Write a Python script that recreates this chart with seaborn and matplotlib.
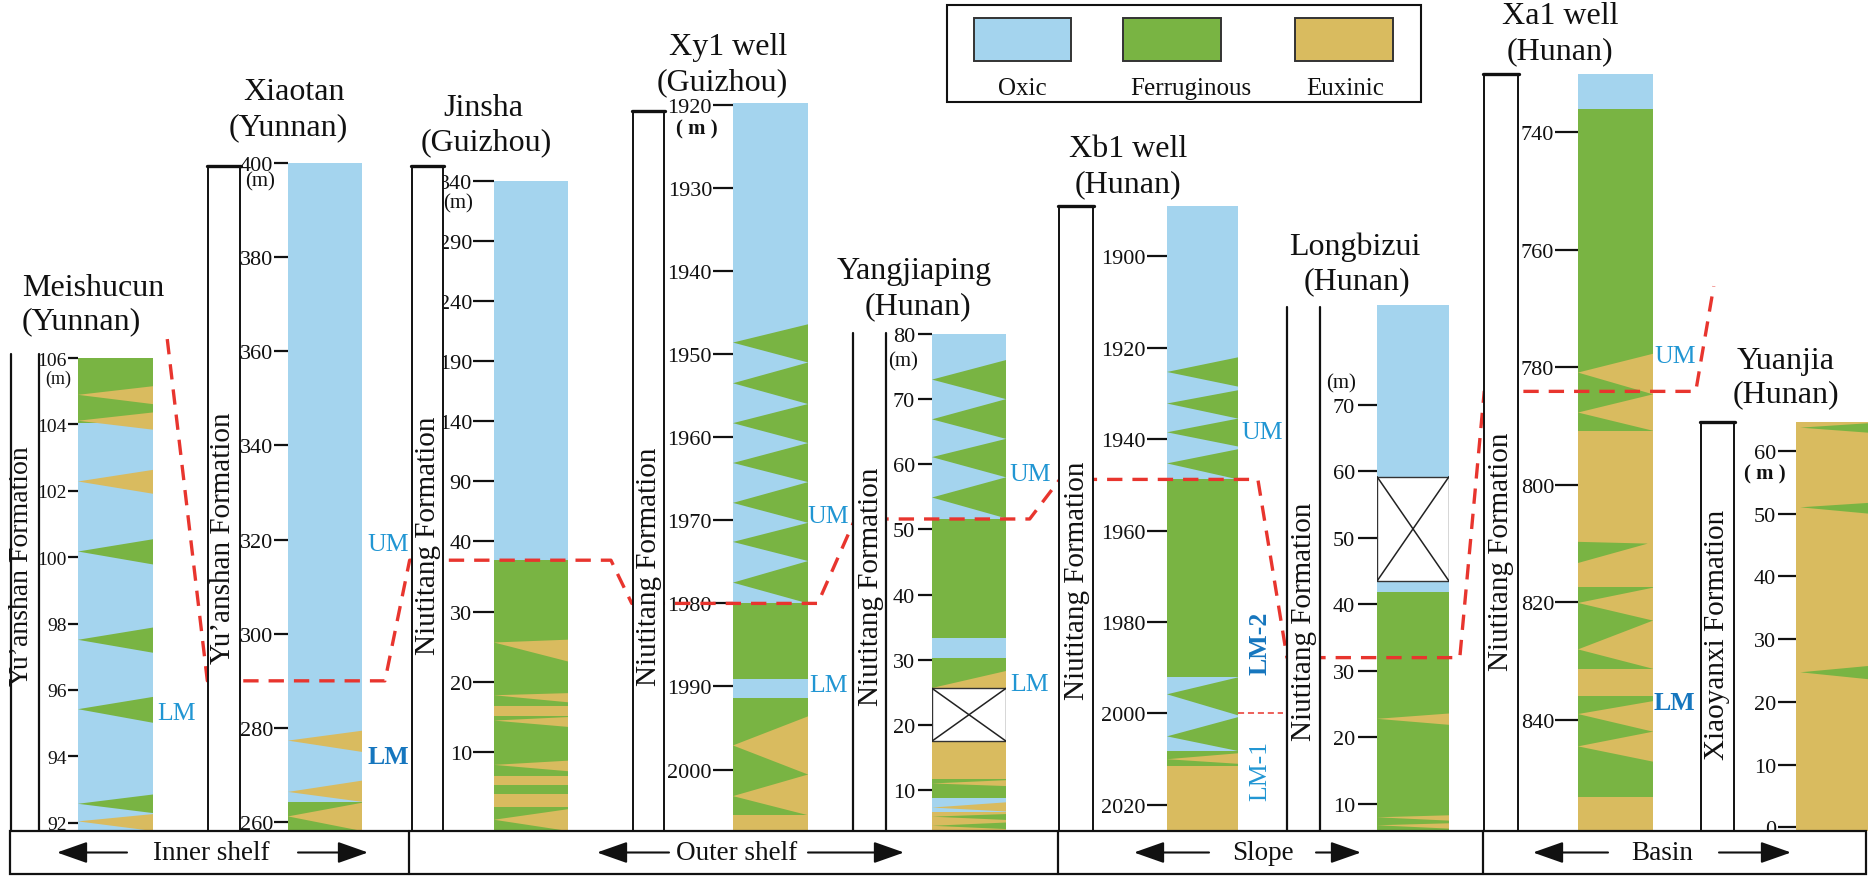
import numpy as np
import matplotlib
matplotlib.use("Agg")
import matplotlib.pyplot as plt
import matplotlib.transforms as mtransforms
from matplotlib.patches import Rectangle, Polygon, FancyArrowPatch
from matplotlib.lines import Line2D
import seaborn as sns

# ---------------------------------------------------------------- data
FACIES = ["O", "F", "E"]
FACIES_NAMES = ["Oxic", "Ferruginous", "Euxinic"]
FACIES_HEX = ["#A4D4EE", "#79B443", "#D9BB5F"]

# beds: (top, base, facies); wedges: (base_a, base_b, tip, facies, tip side[, tip reach])
meishucun_ticks = [92, 94, 96, 98, 100, 102, 104, 106]
meishucun_beds = [(106.0, 104.05, "F"), (104.05, 91.75, "O")]
meishucun_wedges = [
    (105.15, 104.61, 104.89, "E", "L"), (104.36, 103.84, 104.11, "E", "L"),
    (102.63, 101.91, 102.28, "E", "L"), (100.54, 99.78, 100.17, "F", "L"),
    (97.88, 97.12, 97.51, "F", "L"), (95.79, 95.01, 95.42, "F", "L"),
    (92.85, 92.29, 92.57, "F", "L"), (92.26, 91.75, 92.04, "E", "L"),
]

xiaotan_ticks = [260, 280, 300, 320, 340, 360, 380, 400]
xiaotan_beds = [(400.0, 264.3, "O"), (264.3, 258.1, "F")]
xiaotan_wedges = [
    (279.4, 274.9, 277.3, "E", "L"), (268.8, 264.3, 266.4, "E", "L"),
    (264.1, 258.1, 261.2, "E", "L"),
]

jinsha_ticks = [10, 20, 30, 40, 90, 140, 190, 240, 290, 340]
jinsha_beds = [(340.0, 37.3, "O"), (37.3, -1.2, "F"), (16.6, 15.2, "E"),
               (6.6, 5.4, "E"), (4.1, 2.2, "E")]
jinsha_wedges = [
    (26.0, 22.9, 25.6, "E", "L"), (18.4, 17.1, 18.1, "E", "L"),
    (15.0, 13.6, 14.5, "E", "L"), (8.8, 7.3, 8.2, "E", "L"),
    (1.9, -1.2, 0.4, "E", "L"),
]

xy1_ticks = [1920, 1930, 1940, 1950, 1960, 1970, 1980, 1990, 2000]
xy1_beds = [(1919.7, 1980.0, "O"), (1980.0, 1989.1, "F"), (1989.1, 1991.4, "O"),
            (1991.4, 2005.5, "F"), (2005.5, 2007.4, "E")]
xy1_wedges = [
    (1946.4, 1951.0, 1948.6, "F", "L"), (1951.0, 1956.0, 1953.5, "F", "L"),
    (1956.0, 1960.7, 1958.3, "F", "L"), (1960.7, 1965.4, 1963.1, "F", "L"),
    (1965.4, 1970.3, 1967.9, "F", "L"), (1970.3, 1974.9, 1972.6, "F", "L"),
    (1974.9, 1980.0, 1977.5, "F", "L"),
    (1993.6, 2000.6, 1997.1, "E", "L"), (2000.6, 2005.5, 2003.2, "E", "L"),
]

yangjiaping_ticks = [10, 20, 30, 40, 50, 60, 70, 80]
yangjiaping_beds = [(80.0, 51.6, "O"), (51.6, 33.3, "F"), (33.3, 30.2, "O"),
                    (30.2, 25.6, "F"), (17.5, 11.7, "E"), (11.7, 8.7, "F"),
                    (8.7, 6.6, "O"), (6.6, 3.7, "E")]
yangjiaping_gaps = [(25.6, 17.5)]
yangjiaping_wedges = [
    (76.0, 70.0, 73.0, "F", "L"), (70.0, 63.9, 66.9, "F", "L"),
    (63.9, 58.0, 61.1, "F", "L"), (58.0, 51.7, 54.9, "F", "L"),
    (28.2, 25.6, 25.6, "E", "L"), (11.5, 10.6, 11.0, "E", "L"),
    (8.1, 6.7, 7.3, "E", "L"), (6.3, 5.4, 5.9, "F", "L"),
    (5.0, 4.0, 4.5, "F", "L"),
]

xb1_ticks = [1900, 1920, 1940, 1960, 1980, 2000, 2020]
xb1_beds = [(1889.0, 1948.8, "O"), (1948.8, 1992.1, "F"), (1992.1, 2008.2, "O"),
            (2008.2, 2011.4, "F"), (2011.4, 2025.7, "E")]
xb1_wedges = [
    (1922.1, 1928.5, 1925.3, "F", "L"), (1929.3, 1935.5, 1932.2, "F", "L"),
    (1935.5, 1941.6, 1938.5, "F", "L"), (1942.2, 1948.8, 1945.3, "F", "L"),
    (1992.1, 2000.4, 1995.8, "F", "L"), (2000.8, 2008.2, 2005.0, "F", "L"),
    (2008.7, 2011.0, 2010.0, "E", "L"),
]

longbizui_ticks = [10, 20, 30, 40, 50, 60, 70]
longbizui_beds = [(85.0, 59.2, "O"), (43.5, 41.9, "O"), (41.9, 5.94, "F")]
longbizui_gaps = [(59.2, 43.5)]
longbizui_wedges = [
    (23.6, 21.9, 22.8, "E", "L"), (8.3, 7.5, 8.0, "E", "L"), (7.1, 6.3, 6.8, "E", "L"),
]

xa1_ticks = [740, 760, 780, 800, 820, 840]
xa1_beds = [(730.1, 736.1, "O"), (736.1, 790.8, "F"), (790.8, 817.4, "E"),
            (817.4, 831.3, "F"), (831.3, 836.0, "E"), (836.0, 853.1, "F"),
            (853.1, 858.9, "E")]
xa1_wedges = [
    (777.7, 784.6, 780.9, "E", "L"), (784.6, 790.8, 787.7, "E", "L"),
    (809.7, 813.3, 810.0, "F", "R", 0.93),
    (817.5, 823.1, 820.1, "E", "L"), (823.1, 831.3, 828.0, "E", "L"),
    (836.8, 842.0, 839.0, "E", "L"), (842.0, 847.1, 844.5, "E", "L"),
]

yuanjia_ticks = [0, 10, 20, 30, 40, 50, 60]
yuanjia_beds = [(64.6, -0.6, "E")]
yuanjia_wedges = [
    (64.4, 62.9, 63.7, "F", "L", 0.06), (51.7, 50.0, 51.0, "F", "L", 0.06),
    (25.7, 23.6, 24.7, "F", "L", 0.06),
]

# redox boundary (UM base) traced across the sections: (section, x offset, depth)
um_trace = [
    ("meishucun", 1.19, 106.57), ("xiaotan", -1.09, 290.0), ("xiaotan", 1.31, 290.0),
    ("jinsha", -1.14, 37.3), ("jinsha", 1.58, 37.3), ("xy1", -1.35, 1980.0),
    ("xy1", 1.13, 1980.0), ("yangjiaping", -1.04, 51.6), ("yangjiaping", 1.32, 51.6),
    ("xb1", -1.51, 1948.8), ("xb1", 1.28, 1948.8), ("longbizui", -1.25, 32.0),
    ("longbizui", 1.15, 32.0), ("xa1", -1.25, 784.1), ("xa1", 1.57, 784.1),
    ("xa1", 1.81, 766.2),
]
xb1_lm_split = 2000.0

# interval labels: (section, text, x offset, depth, bold, rotation)
interval_labels = [
    ("meishucun", "LM", 1.32, 95.3, False, 0),
    ("xiaotan", "UM", 1.35, 319.1, False, 0),
    ("xiaotan", "LM", 1.35, 274.0, True, 0),
    ("xy1", "UM", 1.27, 1969.5, False, 0),
    ("xy1", "LM", 1.27, 1989.8, False, 0),
    ("yangjiaping", "UM", 1.32, 58.5, False, 0),
    ("yangjiaping", "LM", 1.32, 26.3, False, 0),
    ("xb1", "UM", 1.34, 1938.5, False, 0),
    ("xb1", "LM-2", 1.31, 1984.5, True, 90),
    ("xb1", "LM-1", 1.31, 2012.3, False, 90),
    ("xa1", "UM", 1.29, 778.1, False, 0),
    ("xa1", "LM", 1.29, 837.0, True, 0),
]

settings = ["Inner shelf", "Outer shelf", "Slope", "Basin"]

# ---------------------------------------------------------------- layout (pixels)
W, H, DPI = 1872, 878, 100
BASE = 832
TICK_FS = 16

sections = [
    dict(key="meishucun", beds=meishucun_beds, wedges=meishucun_wedges, gaps=[],
         ticks=meishucun_ticks, lim=(91.75, 106.0), x=(78, 153), top=359,
         tick_len=10, tick_pad=1, tick_fs=14, frame="open", fx=(11, 39), ftop=355,
         formation="Yu\u2019anshan Formation", fpos=(22, 566), ffs=20,
         title=[("Meishucun", 93, 289), ("(Yunnan)", 81, 322)],
         unit=("(m)", 106, -20, -20, False)),
    dict(key="xiaotan", beds=xiaotan_beds, wedges=xiaotan_wedges, gaps=[],
         ticks=xiaotan_ticks, lim=(258.1, 400.0), x=(288, 362), top=164,
         tick_len=14, tick_pad=1, frame="box", fx=(208, 240), ftop=167,
         formation="Yu\u2019anshan Formation", fpos=(223, 538),
         title=[("Xiaotan", 294, 93), ("(Yunnan)", 288, 128)],
         unit=("(m)", 400, -28, -18, False)),
    dict(key="jinsha", beds=jinsha_beds, wedges=jinsha_wedges, gaps=[],
         ticks=jinsha_ticks, lim=(-1.2, 340.0), x=(494, 568), top=181.5,
         tick_len=21, tick_pad=1, frame="box", fx=(412, 443), ftop=167,
         formation="Niutitang Formation", fpos=(428, 536),
         title=[("Jinsha", 483, 109), ("(Guizhou)", 486, 143)],
         unit=("(m)", 340, -36, -22, False), broken=(40.0, 5.85)),
    dict(key="xy1", beds=xy1_beds, wedges=xy1_wedges, gaps=[],
         ticks=xy1_ticks, lim=(2007.4, 1919.7), x=(733, 808), top=103.5,
         tick_len=20, tick_pad=1, frame="box", fx=(633, 664), ftop=112,
         formation="Niutitang Formation", fpos=(649, 567),
         title=[("Xy1 well", 728, 48), ("(Guizhou)", 722, 83)],
         unit=("( m )", 1920, -36, -23, True)),
    dict(key="yangjiaping", beds=yangjiaping_beds, wedges=yangjiaping_wedges,
         gaps=yangjiaping_gaps, ticks=yangjiaping_ticks, lim=(3.7, 80.0),
         x=(932, 1006), top=335, tick_len=14, tick_pad=3, frame="open",
         fx=(853, 886), ftop=334, formation="Niutitang Formation", fpos=(871, 587),
         title=[("Yangjiaping", 914, 272), ("(Hunan)", 918, 307)],
         unit=("(m)", 80, -29, -27, False)),
    dict(key="xb1", beds=xb1_beds, wedges=xb1_wedges, gaps=[],
         ticks=xb1_ticks, lim=(2025.7, 1889.0), x=(1167, 1238), top=207,
         tick_len=20, tick_pad=1, frame="box", fx=(1059, 1093), ftop=207,
         formation="Niutitang Formation", fpos=(1077, 581),
         title=[("Xb1 well", 1128, 150), ("(Hunan)", 1128, 185)], unit=None),
    dict(key="longbizui", beds=longbizui_beds, wedges=longbizui_wedges,
         gaps=longbizui_gaps, ticks=longbizui_ticks, lim=(5.94, 85.0),
         x=(1377, 1449), top=306, tick_len=19, tick_pad=3, frame="open",
         fx=(1287, 1320), ftop=308, formation="Niutitang Formation", fpos=(1304, 622),
         title=[("Longbizui", 1355, 247), ("(Hunan)", 1357, 282)],
         unit=("(m)", 70, -36, 22, False)),
    dict(key="xa1", beds=xa1_beds, wedges=xa1_wedges, gaps=[],
         ticks=xa1_ticks, lim=(858.9, 730.1), x=(1578, 1653), top=75,
         tick_len=23, tick_pad=1, frame="box", fx=(1484, 1518), ftop=75,
         formation="Niutitang Formation", fpos=(1501, 552),
         title=[("Xa1 well", 1560, 17), ("(Hunan)", 1560, 52)], unit=None),
    dict(key="yuanjia", beds=yuanjia_beds, wedges=yuanjia_wedges, gaps=[],
         ticks=yuanjia_ticks, lim=(-0.6, 64.6), x=(1796, 1868), top=423,
         tick_len=18, tick_pad=2, frame="box", fx=(1701, 1734), ftop=423,
         formation="Xiaoyanxi Formation", fpos=(1717, 635),
         title=[("Yuanjia", 1786, 362), ("(Hunan)", 1786, 395)],
         unit=("( m )", 60, -31, -23, True)),
]

band = dict(x=(10, 1866), y=(832, 875), dividers=[409, 1058, 1483])
setting_layout = [  # text centre, left arrow (tip, tail), right arrow (tail, tip)
    (211, (57, 127), (298, 368)),
    (737, (597, 669), (808, 904)),
    (1263, (1134, 1209), (1316, 1361)),
    (1662, (1533, 1608), (1719, 1791)),
]
legend_box = dict(x=(947, 1421), y=(6, 103), patch_y=(19, 62), label_y=89,
                  patch_x=[(974, 1071), (1123, 1221), (1295, 1393)],
                  label_x=[1022, 1191, 1345])

# ---------------------------------------------------------------- style
sns.set_theme(style="white")
plt.rcParams["font.family"] = ["Liberation Serif", "DejaVu Serif"]
colors = dict(zip(FACIES, sns.color_palette(FACIES_HEX)))
RED = "#E8352E"
BLUE = "#2196D3"
BLUE_DARK = "#1676BE"


def fx(px):
    return px / W


def fy(py):
    return 1 - py / H


fig = plt.figure(figsize=(W / DPI, H / DPI), dpi=DPI)
fig.patch.set_facecolor("white")
PT = 72.0 / DPI  # points per pixel

axes = {}
for s in sections:
    x0, x1 = s["x"]
    ax = fig.add_axes([fx(x0), fy(BASE), (x1 - x0) / W, (BASE - s["top"]) / H])
    ax.set_facecolor("none")
    if "broken" in s:
        pivot, k = s["broken"]

        def fwd(d, pivot=pivot, k=k):
            d = np.asarray(d, dtype=float)
            return np.where(d <= pivot, d, pivot + (d - pivot) / k)

        def inv(u, pivot=pivot, k=k):
            u = np.asarray(u, dtype=float)
            return np.where(u <= pivot, u, pivot + (u - pivot) * k)

        ax.set_yscale("function", functions=(fwd, inv))
    ax.set_xlim(0, 1)
    ax.set_ylim(*s["lim"])

    for top, base, fc in s["beds"]:
        ax.fill_between([0, 1], top, base, color=colors[fc], lw=0, zorder=1)
    for w in s["wedges"]:
        a, b, tip, fc, side = w[:5]
        reach = w[5] if len(w) > 5 else None
        if side == "L":
            xt = 0.0 if reach is None else reach
            pts = [(1, a), (1, b), (xt, tip)]
        else:
            xt = 1.0 if reach is None else reach
            pts = [(0, a), (0, b), (xt, tip)]
        ax.add_patch(Polygon(pts, closed=True, facecolor=colors[fc], lw=0, zorder=2))
    for top, base in s["gaps"]:
        ax.fill_between([0, 1], top, base, color="white", lw=0, zorder=3)
        ax.plot([0, 1, 1, 0, 0], [top, top, base, base, top], color="#333333", lw=1.0, zorder=4)
        ax.plot([0, 1], [top, base], color="#222222", lw=1.1, zorder=4)
        ax.plot([0, 1], [base, top], color="#222222", lw=1.1, zorder=4)

    fs = s.get("tick_fs", TICK_FS)
    ax.set_xticks([])
    ax.set_yticks(s["ticks"])
    ax.set_yticklabels([str(t) for t in s["ticks"]], fontsize=fs)
    ax.tick_params(axis="y", which="both", left=True, right=False, direction="out",
                   length=s["tick_len"] * PT, width=1.6, pad=s["tick_pad"] * PT,
                   labelsize=fs, colors="#111111")
    ax.yaxis.set_minor_locator(matplotlib.ticker.NullLocator())
    for sp in ax.spines.values():
        sp.set_visible(False)
    ax.grid(False)

    if s["unit"] is not None:
        txt, anchor, dx, dy, bold = s["unit"]
        ax.annotate(txt, xy=(0, anchor), xycoords=("axes fraction", "data"),
                    xytext=(dx, dy), textcoords="offset pixels", ha="center", va="center",
                    fontsize=fs - 1, fontweight="bold" if bold else "normal",
                    color="#111111")
    axes[s["key"]] = ax

# interval labels
for key, txt, xo, depth, bold, rot in interval_labels:
    ax = axes[key]
    tr = mtransforms.blended_transform_factory(ax.transAxes, ax.transData)
    ax.text(xo, depth, txt, transform=tr, ha="center", va="center", rotation=rot,
            fontsize=18.5, color=BLUE_DARK if bold else BLUE,
            fontweight="bold" if bold else "normal", clip_on=False, zorder=5)

# redox boundary trace through the sections
fig_inv = fig.transFigure.inverted()
pts = []
for key, xo, depth in um_trace:
    ax = axes[key]
    tr = mtransforms.blended_transform_factory(ax.transAxes, ax.transData)
    pts.append(fig_inv.transform(tr.transform((xo, depth))))
pts = np.array(pts)
fig.add_artist(Line2D(pts[:, 0], pts[:, 1], transform=fig.transFigure, color=RED,
                      lw=2.4, ls=(0, (4.6, 3.0)), zorder=2))

ax = axes["xb1"]
tr = mtransforms.blended_transform_factory(ax.transAxes, ax.transData)
p = fig_inv.transform(tr.transform([(1.0, xb1_lm_split), (1.63, xb1_lm_split)]))
fig.add_artist(Line2D(p[:, 0], p[:, 1], transform=fig.transFigure, color=RED,
                      lw=1.1, ls=(0, (4, 2.5)), zorder=2))

# formation columns
for s in sections:
    a, b = s["fx"]
    rect_kw = dict(transform=fig.transFigure, zorder=3)
    if s["frame"] == "box":
        fig.add_artist(Rectangle((fx(a), fy(BASE)), (b - a) / W, (BASE - s["ftop"]) / H,
                                 facecolor="white", edgecolor="#111111", lw=1.4, **rect_kw))
        fig.add_artist(Line2D([fx(a - 1), fx(b + 1)], [fy(s["ftop"]), fy(s["ftop"])],
                              transform=fig.transFigure, color="#111111", lw=2.4, zorder=3))
    else:
        fig.add_artist(Rectangle((fx(a), fy(BASE)), (b - a) / W, (BASE - s["ftop"]) / H,
                                 facecolor="white", edgecolor="none", **rect_kw))
        for xx in (a, b):
            fig.add_artist(Line2D([fx(xx), fx(xx)], [fy(s["ftop"]), fy(BASE)],
                                  transform=fig.transFigure, color="#111111", lw=1.6, zorder=3))
    fig.text(fx(s["fpos"][0]), fy(s["fpos"][1]), s["formation"], rotation=90,
             ha="center", va="center", fontsize=s.get("ffs", 21), color="#111111", zorder=4)
    for txt, tx, ty in s["title"]:
        fig.text(fx(tx), fy(ty), txt, ha="center", va="center", fontsize=23,
                 color="#111111", zorder=4)

# depositional setting band
bx0, bx1 = band["x"]
by0, by1 = band["y"]
fig.add_artist(Rectangle((fx(bx0), fy(by1)), (bx1 - bx0) / W, (by1 - by0) / H,
                         transform=fig.transFigure, facecolor="white",
                         edgecolor="#111111", lw=1.6, zorder=3))
for dx in band["dividers"]:
    fig.add_artist(Line2D([fx(dx), fx(dx)], [fy(by0), fy(by1)], transform=fig.transFigure,
                          color="#111111", lw=1.6, zorder=3))
yc = fy((by0 + by1) / 2)
for name, (tc, (ltip, ltail), (rtail, rtip)) in zip(settings, setting_layout):
    fig.text(fx(tc), yc, name, ha="center", va="center", fontsize=19.5, color="#111111",
             zorder=4)
    for tail, tip in ((ltail, ltip), (rtail, rtip)):
        fig.add_artist(FancyArrowPatch((fx(tail), yc), (fx(tip), yc), transform=fig.transFigure,
                                       arrowstyle="-|>,head_length=0.85,head_width=0.3",
                                       mutation_scale=22, lw=1.5, color="#111111",
                                       shrinkA=0, shrinkB=0, zorder=4))

# legend
lx0, lx1 = legend_box["x"]
ly0, ly1 = legend_box["y"]
fig.add_artist(Rectangle((fx(lx0), fy(ly1)), (lx1 - lx0) / W, (ly1 - ly0) / H,
                         transform=fig.transFigure, facecolor="white",
                         edgecolor="#111111", lw=1.5, zorder=3))
py0, py1 = legend_box["patch_y"]
for fc, name, (px0, px1), lx in zip(FACIES, FACIES_NAMES, legend_box["patch_x"],
                                    legend_box["label_x"]):
    fig.add_artist(Rectangle((fx(px0), fy(py1)), (px1 - px0) / W, (py1 - py0) / H,
                             transform=fig.transFigure, facecolor=colors[fc],
                             edgecolor="#333333", lw=1.4, zorder=4))
    fig.text(fx(lx), fy(legend_box["label_y"]), name, ha="center", va="center",
             fontsize=18, color="#111111", zorder=4)

fig.savefig("out.png", dpi=DPI, facecolor="white")
